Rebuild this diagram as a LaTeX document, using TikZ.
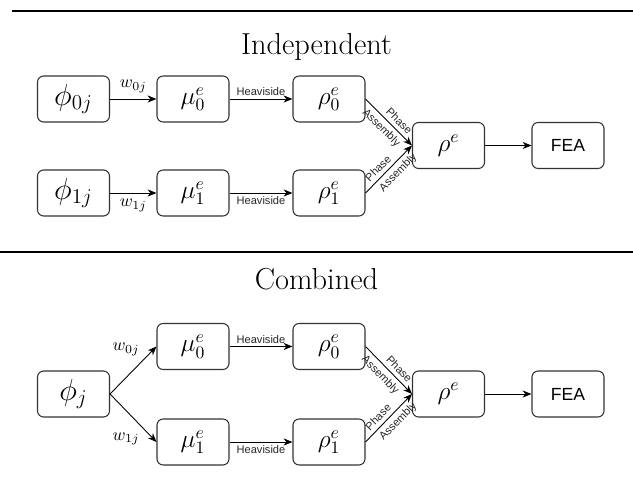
\documentclass[tikz,border=0pt]{standalone}
\usepackage{fontspec}
\setsansfont{Liberation Sans}
\usetikzlibrary{arrows.meta}

\begin{document}
\begin{tikzpicture}
	\tikzset{bloc/.style={rectangle, rounded corners=3.5pt, draw=black!80, line width=0.6pt, minimum width=1.44cm, minimum height=0.92cm, inner sep=0pt, font=\Large},
	fleche/.style={-{Stealth[length=5pt,width=4pt,inset=1.5pt]}, line width=0.5pt},
	etiq/.style={font=\sffamily\fontsize{6.3}{7}\selectfont, text=black!85, inner sep=1.5pt},
	pente/.style={etiq, sloped, inner sep=2.2pt},
	titre/.style={font=\LARGE, anchor=base}};

	\useasboundingbox (0,0) rectangle (12.66,9.72);

	% separateurs
	\coordinate (h1) at (0.24,9.5);
	\coordinate (h2) at (12.66,9.5);
	\coordinate (m1) at (0,4.68);
	\coordinate (m2) at (12.66,4.68);
	\draw[line width=0.8pt] (h1) -- (h2);
	\draw[line width=0.8pt] (m1) -- (m2);

	\node[titre] (indep) at (6.33,8.62) {Independent};
	\node[titre] (comb) at (6.33,3.92) {Combined};

	% independent
	\node[bloc] (rhoe) at (8.97,6.81) {$\rho^{e}$};
	\node[bloc, font=\sffamily\normalsize] (fea) at (11.36,6.81) {FEA};
	\draw[fleche] (rhoe) -- (fea);

	\foreach \i/\y/\cote/\pp/\pa in {0/7.74/above/0.6/0.48, 1/5.86/below/0.4/0.56}{
		\node[bloc, font=\LARGE] (phi\i) at (1.47,\y) {$\phi_{\i j}$};
		\node[bloc] (mu\i) at (3.86,\y) {$\mu_{\i}^{e}$};
		\node[bloc] (rho\i) at (6.58,\y) {$\rho_{\i}^{e}$};
		\draw[fleche] (phi\i) --node[\cote] {$w_{\i j}$} (mu\i);
		\draw[fleche] (mu\i) --node[etiq, \cote] {Heaviside} (rho\i);
		\draw[fleche] (rho\i.east) --node[pente, above, pos=\pp] {Phase}
			node[pente, below, pos=\pa] {Assembly} (rhoe.west);
	}

	% combined
	\node[bloc, font=\LARGE] (cphi) at (1.47,1.84) {$\phi_{j}$};
	\node[bloc] (crhoe) at (8.97,1.84) {$\rho^{e}$};
	\node[bloc, font=\sffamily\normalsize] (cfea) at (11.36,1.84) {FEA};
	\draw[fleche] (crhoe) -- (cfea);

	\foreach \i/\y/\cote/\wcote/\pp/\pa in {0/2.79/above/above left/0.6/0.46, 1/0.88/below/below left/0.4/0.56}{
		\node[bloc] (cmu\i) at (3.86,\y) {$\mu_{\i}^{e}$};
		\node[bloc] (crho\i) at (6.58,\y) {$\rho_{\i}^{e}$};
		\draw[fleche] (cphi.east) --node[\wcote, pos=0.72, inner sep=2pt] {$w_{\i j}$} (cmu\i.west);
		\draw[fleche] (cmu\i) --node[etiq, \cote] {Heaviside} (crho\i);
		\draw[fleche] (crho\i.east) --node[pente, above, pos=\pp] {Phase}
			node[pente, below, pos=\pa] {Assembly} (crhoe.west);
	}

\end{tikzpicture}
\end{document}
